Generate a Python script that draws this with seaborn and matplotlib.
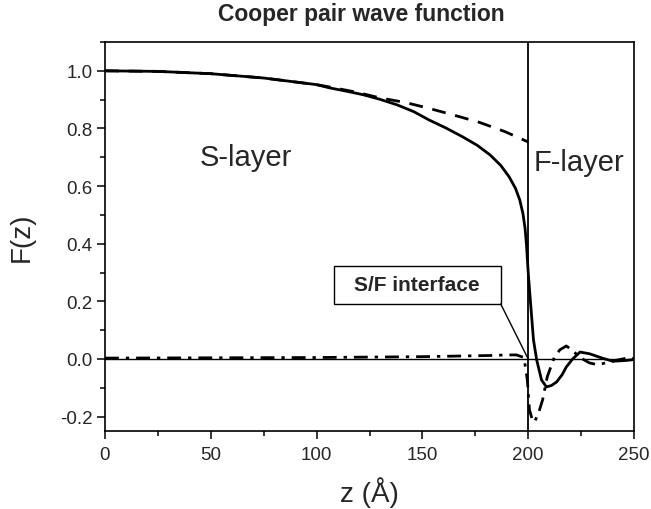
import numpy as np
import pandas as pd
import matplotlib
matplotlib.use("Agg")
import matplotlib.pyplot as plt
import seaborn as sns
from matplotlib.ticker import MultipleLocator
from matplotlib.patches import Rectangle

# ---- data ----
z_solid = [0, 25, 50, 75, 100, 106, 115, 122, 130, 138, 146, 153, 161, 169, 176, 182, 187, 191, 194,
           196, 197.5, 198.5, 199.2, 200, 201, 202.5, 204, 206.3, 208.6, 211, 213.4, 216, 218, 221,
           224.5, 229, 235, 240, 246.6, 250]
f_solid = [1.0, 0.998, 0.99, 0.975, 0.952, 0.941, 0.928, 0.917, 0.901, 0.882, 0.858, 0.830, 0.802,
           0.771, 0.741, 0.708, 0.672, 0.632, 0.592, 0.552, 0.505, 0.455, 0.395, 0.300, 0.205,
           0.066, -0.003, -0.073, -0.097, -0.092, -0.080, -0.055, -0.028, 0.0, 0.024, 0.018,
           0.003, -0.008, -0.005, -0.002]

z_dash = [0, 25, 50, 75, 100, 106, 118, 130, 142, 153, 165, 177, 189, 200]
f_dash = [1.0, 0.998, 0.99, 0.975, 0.952, 0.944, 0.927, 0.906, 0.890, 0.870, 0.846, 0.821, 0.789, 0.753]

z_dashdot = [0, 50, 100, 150, 182, 190, 194.5, 198, 199.6, 200.6, 202, 203, 205, 206.8, 209, 212.4,
             215, 218, 221, 224, 229, 233, 238.6, 242, 246.6, 250]
f_dashdot = [0.003, 0.004, 0.005, 0.008, 0.012, 0.014, 0.014, 0.005, -0.073, -0.177, -0.212, -0.219,
             -0.185, -0.142, -0.062, 0.007, 0.032, 0.045, 0.030, 0.007, -0.014, -0.020, -0.010,
             -0.004, 0.003, 0.002]

x_ticks = [0, 50, 100, 150, 200, 250]
y_ticks = [-0.2, 0.0, 0.2, 0.4, 0.6, 0.8, 1.0]
interface_z = 200

# ---- style ----
sns.set_style("ticks")
plt.rcParams['font.family'] = ['Liberation Sans', 'DejaVu Sans']
plt.rcParams['xtick.direction'] = 'out'
plt.rcParams['ytick.direction'] = 'out'

fig = plt.figure(figsize=(6.51, 5.10), dpi=100)
ax = fig.add_axes([105/651, 1 - 432/510, (634-105)/651, (432-43)/510])

df_s = pd.DataFrame({"z": z_solid, "F": f_solid})
df_d = pd.DataFrame({"z": z_dash, "F": f_dash})
df_dd = pd.DataFrame({"z": z_dashdot, "F": f_dashdot})

ax.axhline(0, color='black', lw=1.0, zorder=1)
ax.axvline(interface_z, color='black', lw=1.3, zorder=1)

sns.lineplot(data=df_s, x="z", y="F", ax=ax, color='black', lw=2.0, zorder=3)
sns.lineplot(data=df_d, x="z", y="F", ax=ax, color='black', lw=2.0, zorder=3)
ax.lines[-1].set_dashes([5, 3.5])
sns.lineplot(data=df_dd, x="z", y="F", ax=ax, color='black', lw=2.0, zorder=3)
ax.lines[-1].set_dashes([5, 2.5, 1.2, 2.5])

ax.set_xlim(0, 250)
ax.set_ylim(-0.25, 1.1)
ax.set_xticks(x_ticks)
ax.set_yticks(y_ticks)
ax.set_xticklabels([str(t) for t in x_ticks])
ax.set_yticklabels([f"{t:.1f}" for t in y_ticks])
ax.xaxis.set_minor_locator(MultipleLocator(25))
ax.yaxis.set_minor_locator(MultipleLocator(0.1))
ax.tick_params(which='major', length=6, width=1.1, labelsize=13.5, pad=3, color='black')
ax.tick_params(which='minor', length=3.6, width=1.1, color='black')
ax.tick_params(axis='x', which='major', pad=5)
for sp in ax.spines.values():
    sp.set_linewidth(1.2)
    sp.set_color('black')

ax.set_xlabel("z (Å)", fontsize=20, labelpad=9)
ax.set_ylabel("F(z)", fontsize=20, labelpad=18)

fig.text(361/651, 1 - 15/510, "Cooper pair wave function", ha='center', va='center',
         fontsize=16.5, fontweight='bold')

ax.text(44.7, 0.70, "S-layer", fontsize=21, ha='left', va='center')
ax.text(202.5, 0.684, "F-layer", fontsize=21, ha='left', va='center')

# S/F interface callout
box_x0, box_x1, box_y0, box_y1 = 108.0, 187.0, 0.191, 0.323
ax.add_patch(Rectangle((box_x0, box_y0), box_x1 - box_x0, box_y1 - box_y0,
                       fc='white', ec='black', lw=1.0, zorder=5))
ax.text((box_x0 + box_x1) / 2, (box_y0 + box_y1) / 2, "S/F interface", ha='center',
        va='center', fontsize=15, fontweight='bold', zorder=6)
ax.annotate("", xy=(interface_z, 0.0), xytext=(box_x1, box_y0),
            arrowprops=dict(arrowstyle='-', color='black', lw=1.0, shrinkA=0, shrinkB=0),
            zorder=5)

fig.savefig("out.png", dpi=100)
